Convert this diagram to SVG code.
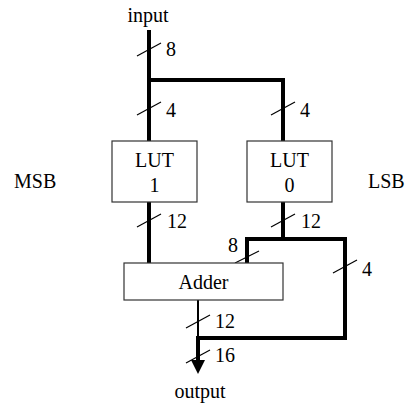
<svg xmlns="http://www.w3.org/2000/svg" width="408" height="407" viewBox="0 0 408 407">
<style>
text{font-family:"Liberation Serif","Times New Roman",serif;font-size:20px;fill:#000}
.c{text-anchor:middle}
.box{fill:#fff;stroke:#333;stroke-width:1.2}
.bus{fill:none;stroke:#000;stroke-width:4;stroke-linecap:square;stroke-linejoin:miter}
.thin{fill:none;stroke:#000;stroke-width:2}
.sl{stroke:#000;stroke-width:1.2}
</style>
<rect width="408" height="407" fill="#fff"/>
<g id="connectors">
<path class="bus" d="M149 32 V141"/>
<path class="bus" d="M149 80 H283 V141"/>
<path class="bus" d="M149 202 V263"/>
<path class="bus" d="M283 202 V239"/>
<path class="bus" d="M247 263 V239 H345 V338 H198"/>
<path class="thin" d="M198 300 V338"/>
<path class="bus" d="M198 338 V361" style="stroke-linecap:butt"/>
<polygon points="191,360 205,360 198,374" fill="#000"/>
<g id="slashes">
<line class="sl" x1="137" y1="56" x2="161" y2="43"/>
<line class="sl" x1="137" y1="115" x2="161" y2="102"/>
<line class="sl" x1="271" y1="115" x2="295" y2="102"/>
<line class="sl" x1="137" y1="227" x2="161" y2="214"/>
<line class="sl" x1="271" y1="227" x2="295" y2="214"/>
<line class="sl" x1="235" y1="263" x2="259" y2="251"/>
<line class="sl" x1="333" y1="273" x2="357" y2="260"/>
<line class="sl" x1="186" y1="328" x2="210" y2="315"/>
<line class="sl" x1="186" y1="363" x2="210" y2="350"/>
</g>
<g id="widths">
<text x="166" y="56">8</text>
<text x="166" y="117">4</text>
<text x="300" y="117">4</text>
<text x="167" y="228">12</text>
<text x="301" y="228">12</text>
<text x="228" y="252">8</text>
<text x="362" y="276">4</text>
<text x="215" y="328">12</text>
<text x="215" y="362">16</text>
</g>
</g>
<g id="input"><text class="c" x="148" y="22">input</text></g>
<g id="output"><text class="c" x="200" y="398">output</text></g>
<g id="msb"><text x="14" y="188">MSB</text></g>
<g id="lsb"><text x="368" y="188">LSB</text></g>
<g id="lut1">
<rect class="box" x="112" y="141" width="85" height="61"/>
<text class="c" x="154.5" y="167">LUT</text>
<text class="c" x="154.5" y="192">1</text>
</g>
<g id="lut0">
<rect class="box" x="247" y="141" width="85" height="61"/>
<text class="c" x="289.5" y="167">LUT</text>
<text class="c" x="289.5" y="192">0</text>
</g>
<g id="adder">
<rect class="box" x="124" y="263" width="159" height="37"/>
<text class="c" x="203.5" y="289">Adder</text>
</g>
</svg>
